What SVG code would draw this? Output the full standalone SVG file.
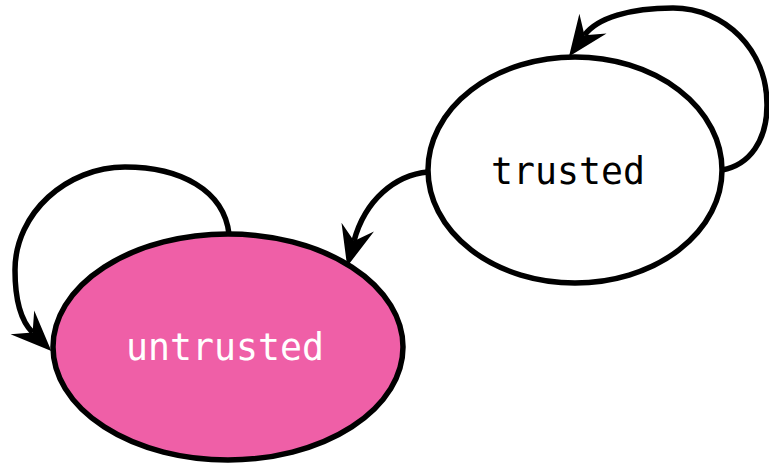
<svg xmlns="http://www.w3.org/2000/svg" width="769" height="464" viewBox="0 0 769 464">
<style>
.node{stroke:#000;stroke-width:5.5}
.lbl{font-family:"DejaVu Sans Mono","Liberation Mono",monospace;font-size:36.5px;text-anchor:middle;dominant-baseline:central}
.edge{fill:none;stroke:#000;stroke-width:5.5}
</style>
<defs>
<marker id="arr" markerUnits="userSpaceOnUse" markerWidth="60" markerHeight="60" viewBox="-20 -20 50 40" refX="0" refY="0" orient="auto">
<path d="M22,0 L-12,-14 L0,0 L-12,14 Z" fill="#000"/>
</marker>
</defs>
<rect width="769" height="464" fill="#fff"/>
<g id="edges">
<path class="edge" d="M428,172 C395,175 365,200 354,241" marker-end="url(#arr)"/>
<path class="edge" d="M229,234 C224,190 180,167 125,167 C67,167 15,213 15,270 C15,300 20,320 32.6,332.5" marker-end="url(#arr)"/>
<path class="edge" d="M722,170 C750,165 767,140 767,105 C767,50 725,8 673,8 C630,8 597,18 584.5,35.2" marker-end="url(#arr)"/>
</g>
<g id="untrusted">
<ellipse class="node" cx="228" cy="347" rx="175" ry="113" fill="#ef5fa7"/>
<text class="lbl" x="225" y="347" fill="#fff">untrusted</text>
</g>
<g id="trusted">
<ellipse class="node" cx="575" cy="170" rx="147" ry="113" fill="#fff"/>
<text class="lbl" x="568" y="171" fill="#000">trusted</text>
</g>
</svg>
